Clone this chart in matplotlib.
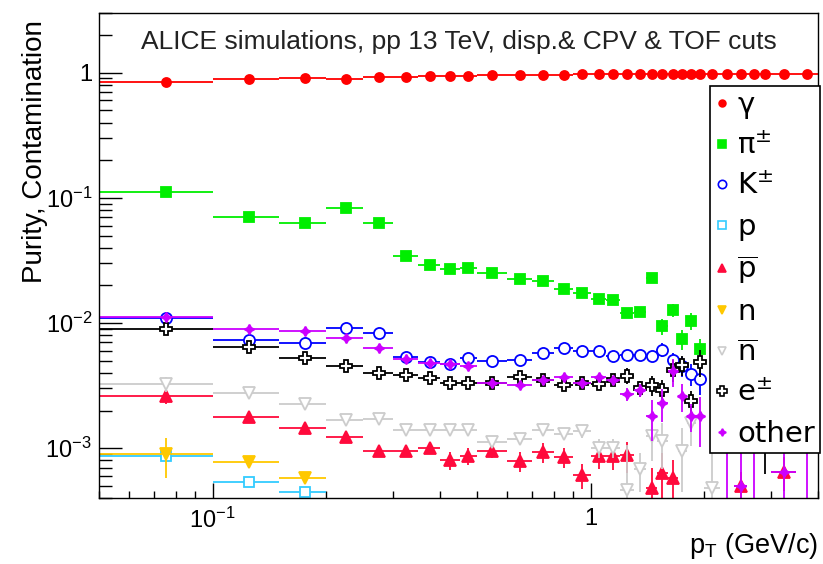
import numpy as np
import matplotlib
matplotlib.use("Agg")
import matplotlib.pyplot as plt
from matplotlib.font_manager import FontProperties
from matplotlib.ticker import FixedLocator, FixedFormatter, NullFormatter

plt.rcParams['font.family'] = ['Liberation Sans', 'DejaVu Sans']
plt.rcParams['mathtext.fontset'] = 'custom'
plt.rcParams['mathtext.rm'] = 'Liberation Sans'
plt.rcParams['mathtext.it'] = 'Liberation Sans:italic'

nan = np.nan

# pT bin edges (GeV/c)
pt_edges = [0.05, 0.1, 0.15, 0.2, 0.25, 0.3, 0.35, 0.4, 0.45, 0.5,
            0.6, 0.7, 0.8, 0.9, 1.0, 1.1, 1.2, 1.3, 1.4, 1.5, 1.6, 1.7, 1.8, 1.9, 2.0,
            2.2, 2.4, 2.6, 2.8, 3.0, 3.5, 4.0]

gamma = [0.85, 0.895, 0.905, 0.885, 0.917, 0.93, 0.94, 0.945, 0.95, 0.955, 0.96,
         0.962, 0.965, 0.968, 0.97, 0.972, 0.974, 0.975, 0.976, 0.977, 0.978, 0.979,
         0.98, 0.98, 0.981, 0.982, 0.982, 0.983, 0.983, 0.984, 0.985]
gamma_err = [0.005] * 31

pion = [0.111, 0.0709, 0.063, 0.0836, 0.0634, 0.0344, 0.0291, 0.027, 0.0274, 0.0253,
        0.0226, 0.0217, 0.0188, 0.0174, 0.0155, 0.0154, 0.0120, 0.0123, 0.0231, 0.0094,
        0.0127, 0.0074, 0.0104, 0.0062, nan, nan, nan, nan, nan, nan, nan]
pion_err = [0.01, 0.01, 0.01, 0.01, 0.01, 0.02, 0.02, 0.02, 0.02, 0.02, 0.02, 0.03,
            0.03, 0.03, 0.04, 0.04, 0.05, 0.06, 0.06, 0.15, 0.12, 0.18, 0.15, 0.2,
            0, 0, 0, 0, 0, 0, 0]

kaon = [0.0109, 0.00731, 0.00696, 0.00918, 0.00827, 0.00537, 0.00488, 0.0047, 0.00522,
        0.00497, 0.0051, 0.00572, 0.00627, 0.006, 0.006, 0.00545, 0.0056, 0.0056, 0.0055,
        0.0061, 0.00506, 0.00456, 0.0039, 0.00356, nan, nan, nan, nan, nan, nan, nan]
kaon_err = [0.02, 0.02, 0.02, 0.02, 0.02, 0.02, 0.02, 0.02, 0.02, 0.03, 0.03, 0.03,
            0.03, 0.04, 0.05, 0.05, 0.05, 0.05, 0.08, 0.13, 0.13, 0.18, 0.2, 0.25,
            0, 0, 0, 0, 0, 0, 0]

proton = [0.000868, 0.000532, 0.000447] + [nan] * 28
proton_err = [0.1, 0.06, 0.06] + [0] * 28

pbar = [0.00263, 0.00176, 0.00145, 0.00122, 0.00095, 0.000955, 0.001, 0.0008, 0.00087,
        0.00095, 0.00079, 0.00093, 0.00085, 0.00061, 0.00087, 0.00086, 0.00088, nan,
        0.00048, 0.00063, 0.00058, nan, nan, nan, nan, nan, 0.0005, nan, nan, 0.00065, nan]
pbar_err = [0.15, 0.05, 0.05, 0.06, 0.07, 0.08, 0.08, 0.16, 0.15, 0.12, 0.18, 0.18,
            0.18, 0.22, 0.22, 0.22, 0.28, 0, 0.45, 0.45, 0.4, 0, 0, 0, 0, 0, 0.3, 0, 0,
            0.3, 0]

neutron = [0.000895, 0.00078, 0.00058] + [nan] * 28
neutron_err = [0.36, 0.08, 0.08] + [0] * 28

nbar = [0.00325, 0.00274, 0.00225, 0.00168, 0.00172, 0.00141, 0.0014, 0.00139, 0.0014,
        0.00112, 0.00118, 0.0014, 0.00131, 0.00136, 0.00101, 0.00101, 0.000465, 0.00068,
        0.00126, 0.00114, nan, 0.00095, 0.0016, nan, 0.00048, nan, nan, nan, nan, nan, nan]
nbar_err = [0.13, 0.05, 0.05, 0.06, 0.06, 0.09, 0.09, 0.09, 0.09, 0.1, 0.1, 0.1, 0.1,
            0.12, 0.18, 0.18, 1.3, 0.34, 0.37, 0.4, 0, 0.53, 0.35, 0, 1.5, 0, 0, 0, 0, 0, 0]

electron = [0.00895, 0.00646, 0.00527, 0.00455, 0.00398, 0.00384, 0.00363, 0.00329,
            0.00329, 0.00333, 0.0037, 0.0035, 0.00321, 0.0033, 0.00325, 0.0035, 0.0038,
            0.003, 0.0032, 0.0029, 0.0042, 0.0046, 0.0024, 0.0049, nan, nan, nan, nan,
            0.0025, nan, nan]
electron_err = [0.02, 0.02, 0.02, 0.02, 0.02, 0.02, 0.02, 0.03, 0.03, 0.03, 0.03, 0.03,
                0.03, 0.04, 0.04, 0.05, 0.15, 0.15, 0.18, 0.2, 0.2, 0.18, 0.2, 0.25,
                0, 0, 0, 0, 0.75, 0, 0]

other = [0.0112, 0.0089, 0.00863, 0.0076, 0.0063, 0.0052, 0.0048, 0.0047, 0.0045,
         0.00333, 0.0032, 0.0035, 0.0037, 0.0033, 0.0037, 0.0035, 0.0027, 0.0029, 0.0018,
         0.0023, 0.0041, 0.0026, 0.0018, 0.0018, nan, 0.002, 0.0005, 0.002, nan, 0.00065,
         0.002]
other_err = [0.03, 0.03, 0.03, 0.03, 0.03, 0.04, 0.04, 0.04, 0.04, 0.05, 0.05, 0.05,
             0.05, 0.06, 0.06, 0.07, 0.12, 0.12, 0.36, 0.3, 0.25, 0.25, 0.25, 0.43,
             0, 0.95, 1.5, 0.95, 0, 1.5, 0.95]

series = [
    (r'γ', gamma, gamma_err, dict(marker='o', color='#ff0000', ms=6.5, mfc='#ff0000')),
    (r'π$^{\pm}$', pion, pion_err, dict(marker='s', color='#00ee00', ms=7, mfc='#00ee00')),
    (r'K$^{\pm}$', kaon, kaon_err, dict(marker='o', color='#0000ff', ms=8, mfc='white')),
    ('p', proton, proton_err, dict(marker='s', color='#33ccff', ms=7.5, mfc='white')),
    (r'$\overline{\rm p}$', pbar, pbar_err, dict(marker='^', color='#ff0a3c', ms=8, mfc='#ff0a3c')),
    ('n', neutron, neutron_err, dict(marker='v', color='#ffc800', ms=8, mfc='#ffc800')),
    (r'$\overline{\rm n}$', nbar, nbar_err, dict(marker='v', color='#cccccc', ms=8.5, mfc='white')),
    (r'e$^{\pm}$', electron, electron_err, dict(marker='P', color='black', ms=9, mfc='white')),
    ('other', other, other_err, dict(marker=(4, 1, 0), color='#cc00ff', ms=7, mfc='#cc00ff')),
]

edges = np.array(pt_edges)
centers = 0.5 * (edges[:-1] + edges[1:])
half = 0.5 * (edges[1:] - edges[:-1])

fig = plt.figure(figsize=(8.23, 5.64), dpi=100)
ax = fig.add_axes([99 / 823, 66 / 564, 719 / 823, 485 / 564])

handles = []
for label, vals, rel, st in series:
    y = np.array(vals, dtype=float)
    err = y * np.array(rel, dtype=float)
    lo = np.minimum(err, y * 0.999)
    ax.errorbar(centers, y, xerr=half, yerr=[lo, err], fmt='none',
                ecolor=st['color'], elinewidth=1.3, capsize=0)
    ax.plot(centers, y, linestyle='none', marker=st['marker'], ms=st['ms'],
            mfc=st['mfc'], mec=st['color'], mew=1.3)
    handles.append(plt.Line2D([], [], linestyle='none', marker=st['marker'],
                              ms=st['ms'] * 0.75, mfc=st['mfc'], mec=st['color'],
                              mew=1.2, label=label))

ax.set_xscale('log')
ax.set_yscale('log')
ax.set_xlim(0.05, 4.0)
ax.set_ylim(4e-4, 3.0)

ax.yaxis.set_major_locator(FixedLocator([1e-3, 1e-2, 1e-1, 1]))
ax.yaxis.set_major_formatter(FixedFormatter([r'$10^{-3}$', r'$10^{-2}$', r'$10^{-1}$', '1']))
ax.xaxis.set_major_locator(FixedLocator([0.1, 1]))
ax.xaxis.set_major_formatter(FixedFormatter([r'$10^{-1}$', '1']))
ax.xaxis.set_minor_formatter(NullFormatter())
ax.yaxis.set_minor_formatter(NullFormatter())

ax.tick_params(axis='y', which='major', direction='in', length=16.5, width=1, labelsize=17, pad=5)
ax.tick_params(axis='y', which='minor', direction='in', length=9, width=1)
ax.tick_params(axis='x', which='major', direction='in', length=10.8, width=1, labelsize=17, pad=7)
ax.tick_params(axis='x', which='minor', direction='in', length=5, width=1)
for s in ax.spines.values():
    s.set_linewidth(1)

ax.text(0.5, 0.94, 'ALICE simulations, pp 13 TeV, disp.& CPV & TOF cuts',
        transform=ax.transAxes, ha='center', va='center', fontsize=19, color='#222222')

fig.text(35 / 823, 1 - 20 / 564, 'Purity, Contamination', rotation=90,
         ha='center', va='top', fontsize=20)
fig.text(818 / 823, 11 / 564, r'p$_{\rm T}$ (GeV/c)', ha='right', va='baseline', fontsize=19.5)

leg_font = FontProperties(family='DejaVu Sans', size=21, math_fontfamily='dejavusans')
leg = ax.legend(handles=handles, loc='upper left', bbox_to_anchor=(0.850, 0.8495),
                prop=leg_font, frameon=True, fancybox=False, edgecolor='black',
                framealpha=1, handlelength=0.45, handletextpad=0.3, labelspacing=0.43,
                borderpad=0.18, borderaxespad=0)
leg.get_frame().set_linewidth(1.2)

fig.savefig('out.png', dpi=100)
